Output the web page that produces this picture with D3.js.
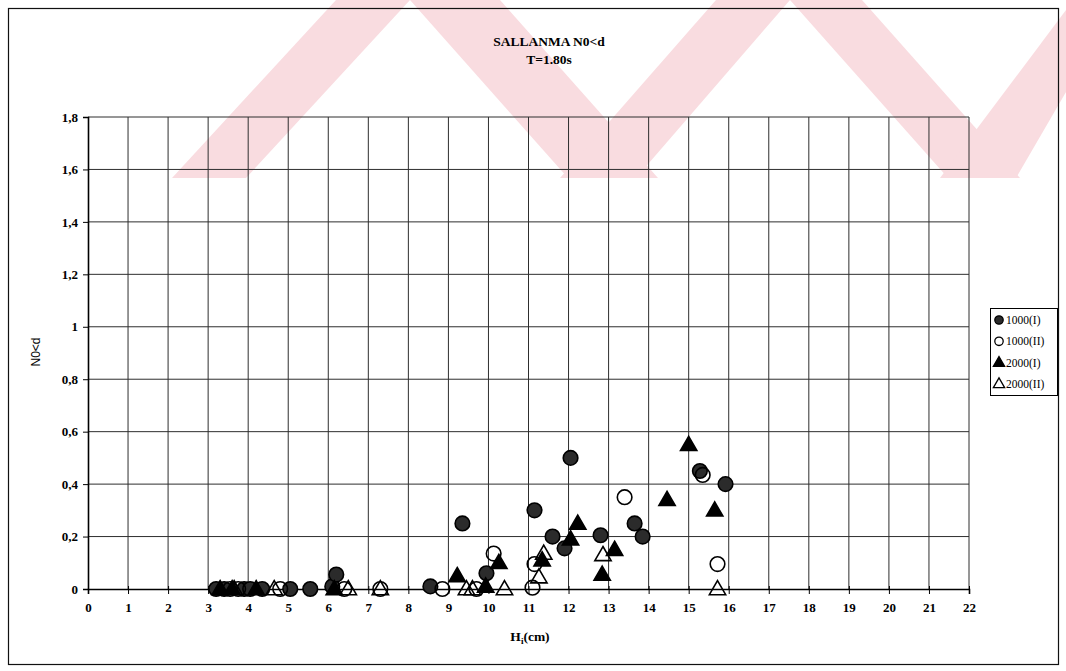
<!DOCTYPE html>
<html>
<head>
<meta charset="utf-8">
<script src="https://cdn.jsdelivr.net/npm/d3@7"></script>
<style>
  body { margin: 0; background: #fff; }
  svg { display: block; }
</style>
</head>
<body>
<svg id="chart" width="1066" height="671"></svg>
<script>
// Axis ticks and labels
const xTickValues = d3.range(0, 23);
const yTickValues = [0, 0.2, 0.4, 0.6, 0.8, 1.0, 1.2, 1.4, 1.6, 1.8];
const yTickLabels = ["0", "0,2", "0,4", "0,6", "0,8", "1", "1,2", "1,4", "1,6", "1,8"];
const seriesNames = ["1000(I)", "1000(II)", "2000(I)", "2000(II)"];

// 1000(I) – filled circles
const h1000I = [3.2, 3.4, 3.9, 4.05, 4.35, 5.05, 5.55, 6.1, 6.2, 8.55, 9.35, 9.95, 11.15, 11.6, 11.9, 12.05, 12.8, 13.65, 13.85, 15.28, 15.92];
const n1000I = [0, 0, 0, 0, 0, 0, 0, 0.01, 0.055, 0.01, 0.25, 0.06, 0.30, 0.20, 0.155, 0.50, 0.205, 0.25, 0.20, 0.45, 0.40];

// 1000(II) – open circles
const h1000II = [3.55, 3.75, 4.8, 6.4, 7.3, 8.85, 9.7, 10.13, 11.1, 11.15, 13.4, 15.35, 15.72];
const n1000II = [0, 0, 0, 0, 0, 0, 0, 0.135, 0.005, 0.095, 0.35, 0.435, 0.095];

// 2000(I) – filled triangles
const h2000I = [3.3, 3.6, 4.2, 6.15, 9.22, 9.93, 10.26, 11.34, 12.05, 12.23, 12.84, 13.15, 14.46, 15.0, 15.65];
const n2000I = [0, 0, 0, 0, 0.05, 0.01, 0.10, 0.11, 0.19, 0.25, 0.055, 0.15, 0.34, 0.55, 0.30];

// 2000(II) – open triangles
const h2000II = [3.65, 4.65, 6.5, 7.3, 9.45, 9.6, 10.4, 11.26, 11.38, 12.86, 15.72];
const n2000II = [0, 0, 0, 0, 0, 0, 0, 0.045, 0.135, 0.13, 0.0];

const svg = d3.select("#chart");
const serif = "'Liberation Serif', 'Times New Roman', serif";
const sans = "'Liberation Sans', Arial, sans-serif";

// Faint background logo bands
const wm = svg.append("g").attr("fill", "#f9dce0");
const bands = [
  [[172, 178], [246, 178], [410, 0], [336, 0]],
  [[410, 0], [500, 0], [658, 178], [568, 178]],
  [[560, 178], [636, 178], [790, 0], [716, 0]],
  [[790, 0], [862, 0], [1020, 178], [948, 178]],
  [[940, 178], [1016, 178], [1066, 92], [1066, 10]]
];
bands.forEach(p => wm.append("polygon").attr("points", p.map(q => q.join(",")).join(" ")));

// Outer chart frame
svg.append("rect")
  .attr("x", 8.5).attr("y", 8.5).attr("width", 1050).attr("height", 656)
  .attr("fill", "none").attr("stroke", "#111").attr("stroke-width", 1.2);

const x = d3.scaleLinear().domain([0, 22]).range([88, 969]);
const y = d3.scaleLinear().domain([0, 1.8]).range([589, 117]);

// Gridlines
const grid = svg.append("g").attr("stroke", "#2e2e2e").attr("stroke-width", 1);
xTickValues.filter(v => v > 0).forEach(v => {
  grid.append("line").attr("x1", x(v)).attr("x2", x(v)).attr("y1", y(0)).attr("y2", y(1.8));
});
yTickValues.filter(v => v > 0).forEach(v => {
  grid.append("line").attr("x1", x(0)).attr("x2", x(22)).attr("y1", y(v)).attr("y2", y(v));
});

// Axes
const xAxis = d3.axisBottom(x).tickValues(xTickValues).tickSize(5).tickPadding(9).tickFormat(d3.format("d"));
const gx = svg.append("g").attr("transform", `translate(0,${y(0)})`).call(xAxis);
gx.select(".domain").attr("stroke", "#000").attr("stroke-width", 1.6);
gx.selectAll(".tick line").attr("stroke", "#000").attr("y1", -3);
gx.selectAll("text").attr("font-family", serif).attr("font-weight", "bold").attr("font-size", 13).attr("fill", "#000");

const yAxis = d3.axisLeft(y).tickValues(yTickValues).tickSize(5).tickPadding(5)
  .tickFormat((d, i) => yTickLabels[i]);
const gy = svg.append("g").attr("transform", `translate(${x(0)},0)`).call(yAxis);
gy.select(".domain").attr("stroke", "#000").attr("stroke-width", 1.6);
gy.selectAll(".tick line").attr("stroke", "#000");
gy.selectAll("text").attr("font-family", serif).attr("font-weight", "bold").attr("font-size", 13).attr("fill", "#000");

// Titles
svg.append("text").attr("x", 549).attr("y", 46).attr("text-anchor", "middle")
  .attr("font-family", serif).attr("font-weight", "bold").attr("font-size", 13.5).text("SALLANMA N0<d");
svg.append("text").attr("x", 549).attr("y", 64).attr("text-anchor", "middle")
  .attr("font-family", serif).attr("font-weight", "bold").attr("font-size", 13.5).text("T=1.80s");

const xl = svg.append("text").attr("x", 530).attr("y", 641).attr("text-anchor", "middle")
  .attr("font-family", serif).attr("font-weight", "bold").attr("font-size", 13.5);
xl.append("tspan").text("H");
xl.append("tspan").attr("font-size", 9).attr("dy", 3).text("i");
xl.append("tspan").attr("dy", -3).text("(cm)");

svg.append("text").attr("transform", "translate(40,352) rotate(-90)").attr("text-anchor", "middle")
  .attr("font-family", sans).attr("font-size", 12).text("N0<d");

// Markers
const tri = d3.symbol().type(d3.symbolTriangle).size(115);
const plot = svg.append("g");
function drawCircles(xs, ys, filled) {
  plot.append("g").selectAll("circle").data(xs.map((v, i) => [v, ys[i]])).join("circle")
    .attr("cx", d => x(d[0])).attr("cy", d => y(d[1])).attr("r", 7.3)
    .attr("fill", filled ? "#2b2b2b" : "none").attr("stroke", "#000").attr("stroke-width", 1.6);
}
function drawTriangles(xs, ys, filled) {
  plot.append("g").selectAll("path").data(xs.map((v, i) => [v, ys[i]])).join("path")
    .attr("d", tri).attr("transform", d => `translate(${x(d[0])},${y(d[1]) + 1})`)
    .attr("fill", filled ? "#000" : "none").attr("stroke", "#000").attr("stroke-width", 1.6);
}
drawCircles(h1000I, n1000I, true);
drawCircles(h1000II, n1000II, false);
drawTriangles(h2000I, n2000I, true);
drawTriangles(h2000II, n2000II, false);

// Legend
const lg = svg.append("g");
lg.append("rect").attr("x", 990.5).attr("y", 308.5).attr("width", 67).attr("height", 87)
  .attr("fill", "#fff").attr("stroke", "#000").attr("stroke-width", 1);
seriesNames.forEach((name, i) => {
  const cy = 320 + i * 21.3;
  if (i < 2) {
    lg.append("circle").attr("cx", 999).attr("cy", cy).attr("r", 4.2)
      .attr("fill", i === 0 ? "#2b2b2b" : "none").attr("stroke", "#000").attr("stroke-width", 1.3);
  } else {
    lg.append("path").attr("d", d3.symbol().type(d3.symbolTriangle).size(55))
      .attr("transform", `translate(999,${cy + 0.5})`)
      .attr("fill", i === 2 ? "#000" : "none").attr("stroke", "#000").attr("stroke-width", 1.3);
  }
  lg.append("text").attr("x", 1006).attr("y", cy + 4).attr("font-family", serif)
    .attr("font-size", 11.5).text(name);
});
</script>
</body>
</html>
